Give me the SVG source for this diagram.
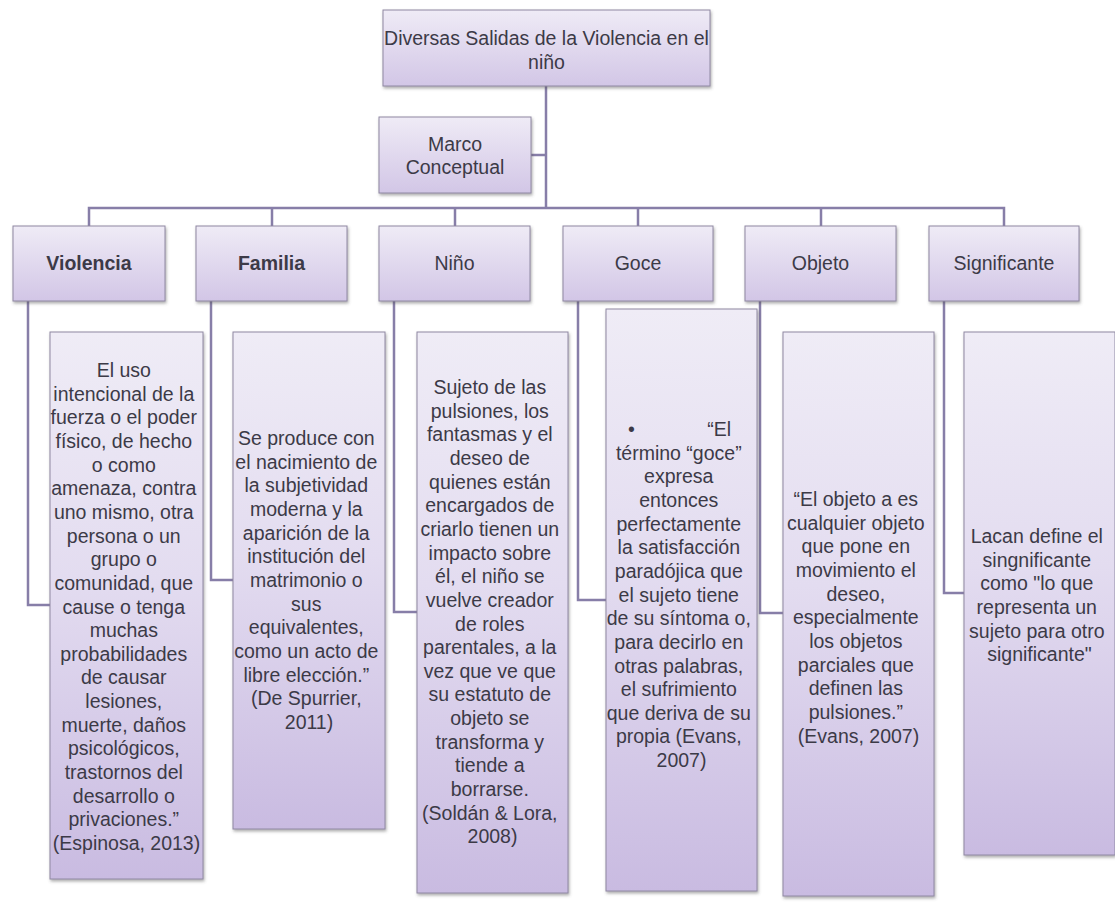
<svg xmlns="http://www.w3.org/2000/svg" width="1115" height="905" viewBox="0 0 1115 905">
<defs>
<linearGradient id="gTop" x1="0" y1="0" x2="0" y2="1">
<stop offset="0" stop-color="#EFEBF6"/>
<stop offset="1" stop-color="#D2C6E6"/>
</linearGradient>
<linearGradient id="gChild" x1="0" y1="0" x2="0" y2="1">
<stop offset="0" stop-color="#EFECF6"/>
<stop offset="0.45" stop-color="#E3DCF0"/>
<stop offset="1" stop-color="#C9BBE1"/>
</linearGradient>
<filter id="sh" x="-10%" y="-10%" width="125%" height="125%">
<feDropShadow dx="1" dy="2" stdDeviation="1.5" flood-color="#4a4a4a" flood-opacity="0.45"/>
</filter>
</defs>
<style>
.box{fill:url(#gTop);stroke:#8F88A2;stroke-width:1;filter:url(#sh)}
.cbox{fill:url(#gChild);stroke:#8F88A2;stroke-width:1;filter:url(#sh)}
.t{font-family:"Liberation Sans",Arial,sans-serif;font-size:19.5px;fill:#3C3A47;text-anchor:middle}
.b{font-weight:bold}
.c{fill:none;stroke:#877EA8;stroke-width:2.5}
</style>

<g id="connectors">
<path class="c" d="M546,86 V208"/>
<path class="c" d="M531,155 H546"/>
<path class="c" d="M89,227 V208 H1004 V227"/>
<path class="c" d="M272,208 V227"/>
<path class="c" d="M455,208 V227"/>
<path class="c" d="M638,208 V227"/>
<path class="c" d="M821,208 V227"/>
<path class="c" d="M28,301 V605 H50"/>
<path class="c" d="M211,301 V580 H233"/>
<path class="c" d="M394,301 V612 H417"/>
<path class="c" d="M578,301 V600 H606"/>
<path class="c" d="M760,301 V613 H783"/>
<path class="c" d="M944,301 V593 H964"/>
</g>

<g id="root">
<rect class="box" x="383" y="10" width="327" height="76"/>
<text class="t" x="546.5" y="45">Diversas Salidas de la Violencia en el</text>
<text class="t" x="546.5" y="69">niño</text>
</g>

<g id="marco">
<rect class="box" x="379" y="117" width="152" height="76"/>
<text class="t" x="455" y="151">Marco</text>
<text class="t" x="455" y="174">Conceptual</text>
</g>

<g id="violencia">
<rect class="box" x="13" y="226" width="152" height="75"/>
<text class="t b" x="89" y="270">Violencia</text>
</g>
<g id="familia">
<rect class="box" x="196" y="226" width="151" height="75"/>
<text class="t b" x="271.5" y="270">Familia</text>
</g>
<g id="nino">
<rect class="box" x="379" y="226" width="151" height="75"/>
<text class="t" x="454.5" y="270">Niño</text>
</g>
<g id="goce">
<rect class="box" x="563" y="226" width="150" height="75"/>
<text class="t" x="638" y="270">Goce</text>
</g>
<g id="objeto">
<rect class="box" x="745" y="226" width="151" height="75"/>
<text class="t" x="820.5" y="270">Objeto</text>
</g>
<g id="significante">
<rect class="box" x="929" y="226" width="150" height="75"/>
<text class="t" x="1004" y="270">Significante</text>
</g>

<g id="violencia-def">
<rect class="cbox" x="50" y="332" width="153" height="547"/>
<text class="t" x="126.5" y="377">
<tspan x="126.5">El uso</tspan>
<tspan x="126.5" dy="23.65">intencional de la</tspan>
<tspan x="126.5" dy="23.65">fuerza o el poder</tspan>
<tspan x="126.5" dy="23.65">físico, de hecho</tspan>
<tspan x="126.5" dy="23.65">o como</tspan>
<tspan x="126.5" dy="23.65">amenaza, contra</tspan>
<tspan x="126.5" dy="23.65">uno mismo, otra</tspan>
<tspan x="126.5" dy="23.65">persona o un</tspan>
<tspan x="126.5" dy="23.65">grupo o</tspan>
<tspan x="126.5" dy="23.65">comunidad, que</tspan>
<tspan x="126.5" dy="23.65">cause o tenga</tspan>
<tspan x="126.5" dy="23.65">muchas</tspan>
<tspan x="126.5" dy="23.65">probabilidades</tspan>
<tspan x="126.5" dy="23.65">de causar</tspan>
<tspan x="126.5" dy="23.65">lesiones,</tspan>
<tspan x="126.5" dy="23.65">muerte, daños</tspan>
<tspan x="126.5" dy="23.65">psicológicos,</tspan>
<tspan x="126.5" dy="23.65">trastornos del</tspan>
<tspan x="126.5" dy="23.65">desarrollo o</tspan>
<tspan x="126.5" dy="23.65">privaciones.”</tspan>
<tspan x="126.5" dy="23.65">(Espinosa, 2013)</tspan>
</text>
</g>

<g id="familia-def">
<rect class="cbox" x="233" y="332" width="152" height="497"/>
<text class="t" x="309" y="445">
<tspan x="309">Se produce con</tspan>
<tspan x="309" dy="23.65">el nacimiento de</tspan>
<tspan x="309" dy="23.65">la subjetividad</tspan>
<tspan x="309" dy="23.65">moderna y la</tspan>
<tspan x="309" dy="23.65">aparición de la</tspan>
<tspan x="309" dy="23.65">institución del</tspan>
<tspan x="309" dy="23.65">matrimonio o</tspan>
<tspan x="309" dy="23.65">sus</tspan>
<tspan x="309" dy="23.65">equivalentes,</tspan>
<tspan x="309" dy="23.65">como un acto de</tspan>
<tspan x="309" dy="23.65">libre elección.”</tspan>
<tspan x="309" dy="23.65">(De Spurrier,</tspan>
<tspan x="309" dy="23.65">2011)</tspan>
</text>
</g>

<g id="nino-def">
<rect class="cbox" x="417" y="332" width="151" height="561"/>
<text class="t" x="492.5" y="394">
<tspan x="492.5">Sujeto de las</tspan>
<tspan x="492.5" dy="23.65">pulsiones, los</tspan>
<tspan x="492.5" dy="23.65">fantasmas y el</tspan>
<tspan x="492.5" dy="23.65">deseo de</tspan>
<tspan x="492.5" dy="23.65">quienes están</tspan>
<tspan x="492.5" dy="23.65">encargados de</tspan>
<tspan x="492.5" dy="23.65">criarlo tienen un</tspan>
<tspan x="492.5" dy="23.65">impacto sobre</tspan>
<tspan x="492.5" dy="23.65">él, el niño se</tspan>
<tspan x="492.5" dy="23.65">vuelve creador</tspan>
<tspan x="492.5" dy="23.65">de roles</tspan>
<tspan x="492.5" dy="23.65">parentales, a la</tspan>
<tspan x="492.5" dy="23.65">vez que ve que</tspan>
<tspan x="492.5" dy="23.65">su estatuto de</tspan>
<tspan x="492.5" dy="23.65">objeto se</tspan>
<tspan x="492.5" dy="23.65">transforma y</tspan>
<tspan x="492.5" dy="23.65">tiende a</tspan>
<tspan x="492.5" dy="23.65">borrarse.</tspan>
<tspan x="492.5" dy="23.65">(Soldán &amp; Lora,</tspan>
<tspan x="492.5" dy="23.65">2008)</tspan>
</text>
</g>

<g id="goce-def">
<rect class="cbox" x="606" y="309" width="151" height="582"/>
<text class="t" x="681.5" y="436">
<tspan x="634">•</tspan>
<tspan x="722">“El</tspan>
<tspan x="681.5" dy="23.65">término “goce”</tspan>
<tspan x="681.5" dy="23.65">expresa</tspan>
<tspan x="681.5" dy="23.65">entonces</tspan>
<tspan x="681.5" dy="23.65">perfectamente</tspan>
<tspan x="681.5" dy="23.65">la satisfacción</tspan>
<tspan x="681.5" dy="23.65">paradójica que</tspan>
<tspan x="681.5" dy="23.65">el sujeto tiene</tspan>
<tspan x="681.5" dy="23.65">de su síntoma o,</tspan>
<tspan x="681.5" dy="23.65">para decirlo en</tspan>
<tspan x="681.5" dy="23.65">otras palabras,</tspan>
<tspan x="681.5" dy="23.65">el sufrimiento</tspan>
<tspan x="681.5" dy="23.65">que deriva de su</tspan>
<tspan x="681.5" dy="23.65">propia (Evans,</tspan>
<tspan x="681.5" dy="23.65">2007)</tspan>
</text>
</g>

<g id="objeto-def">
<rect class="cbox" x="783" y="332" width="151" height="564"/>
<text class="t" x="858.5" y="506">
<tspan x="858.5">“El objeto a es</tspan>
<tspan x="858.5" dy="23.65">cualquier objeto</tspan>
<tspan x="858.5" dy="23.65">que pone en</tspan>
<tspan x="858.5" dy="23.65">movimiento el</tspan>
<tspan x="858.5" dy="23.65">deseo,</tspan>
<tspan x="858.5" dy="23.65">especialmente</tspan>
<tspan x="858.5" dy="23.65">los objetos</tspan>
<tspan x="858.5" dy="23.65">parciales que</tspan>
<tspan x="858.5" dy="23.65">definen las</tspan>
<tspan x="858.5" dy="23.65">pulsiones.”</tspan>
<tspan x="858.5" dy="23.65">(Evans, 2007)</tspan>
</text>
</g>

<g id="significante-def">
<rect class="cbox" x="964" y="332" width="151" height="523"/>
<text class="t" x="1039.5" y="543">
<tspan x="1039.5">Lacan define el</tspan>
<tspan x="1039.5" dy="23.65">singnificante</tspan>
<tspan x="1039.5" dy="23.65">como "lo que</tspan>
<tspan x="1039.5" dy="23.65">representa un</tspan>
<tspan x="1039.5" dy="23.65">sujeto para otro</tspan>
<tspan x="1039.5" dy="23.65">significante"</tspan>
</text>
</g>
</svg>
